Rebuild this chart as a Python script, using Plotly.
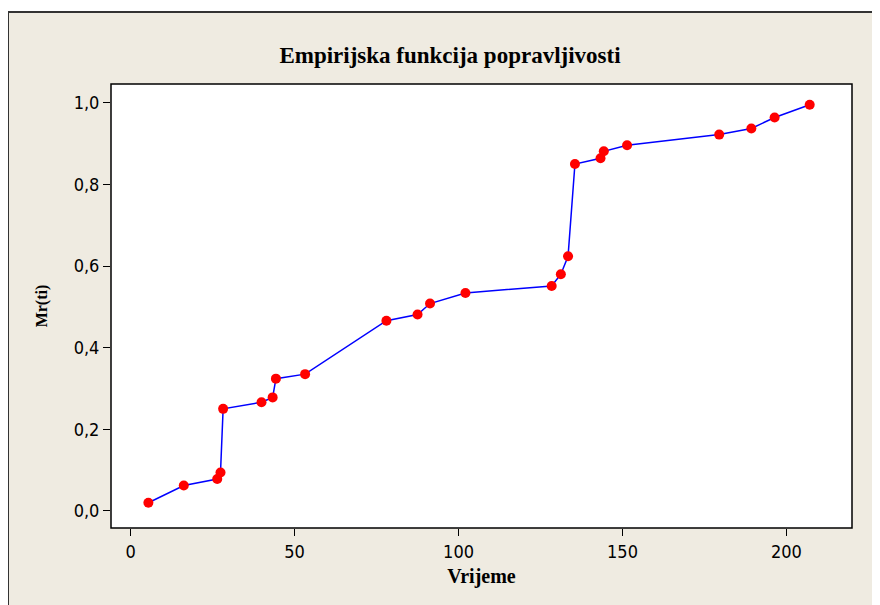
import plotly.graph_objects as go

vrijeme = [5.4, 16.2, 26.4, 27.4, 28.2, 39.9, 43.3, 44.3, 53.2, 78.0, 87.5, 91.3,
           102.1, 128.4, 131.2, 133.4, 135.5, 143.3, 144.3, 151.4, 179.5, 189.3,
           196.4, 207.1]
mr_ti = [0.020, 0.062, 0.078, 0.094, 0.250, 0.266, 0.278, 0.324, 0.335, 0.466,
         0.481, 0.508, 0.534, 0.551, 0.580, 0.624, 0.850, 0.864, 0.881, 0.896,
         0.922, 0.937, 0.964, 0.995]

x_ticks = [0, 50, 100, 150, 200]
y_ticks = [0.0, 0.2, 0.4, 0.6, 0.8, 1.0]

W, H = 880, 605
OFF = 8  # the page body has an 8px margin
L, R, T, B = 111 - OFF, 36, 84 - OFF, 85

BEIGE = "#efebe1"
SERIF = "Liberation Serif, Times New Roman, serif"
SANS = "DejaVu Sans Condensed, DejaVu Sans, sans-serif"

fig = go.Figure()
fig.add_trace(go.Scatter(x=vrijeme, y=mr_ti, mode="lines",
                         line=dict(color="#0000ff", width=1.5),
                         hoverinfo="skip", showlegend=False))
fig.add_trace(go.Scatter(x=vrijeme, y=mr_ti, mode="markers",
                         marker=dict(color="#ff0000", size=10),
                         showlegend=False))

# screen pixel -> paper fraction
pw, ph = W - L - R, H - T - B
def px(x):
    return (x - OFF - L) / pw
def py(y):
    return (H - B - (y - OFF)) / ph

fig.add_shape(type="rect", xref="paper", yref="paper",
              x0=px(8), x1=px(920), y0=py(640), y1=py(12),
              fillcolor=BEIGE, line=dict(color="#333333", width=2), layer="below")
fig.add_shape(type="rect", xref="paper", yref="paper",
              x0=0, x1=1, y0=0, y1=1,
              fillcolor="white", line=dict(color="black", width=1.5), layer="below")

axis_common = dict(showgrid=False, zeroline=False, showline=False,
                   ticks="outside", ticklen=7, tickwidth=1.2, tickcolor="black",
                   tickfont=dict(family=SANS, size=18, color="black"))

fig.update_xaxes(range=[-6, 220], tickvals=x_ticks,
                 title=dict(text="<b>Vrijeme</b>", standoff=8,
                            font=dict(family=SERIF, size=20, color="black")),
                 **axis_common)
fig.update_yaxes(range=[-0.042, 1.046], tickvals=y_ticks, tickformat=".1f",
                 title=dict(text="<b>Mr(ti)</b>", standoff=22,
                            font=dict(family=SERIF, size=16, color="black")),
                 **axis_common)

fig.update_layout(
    width=W, height=H,
    margin=dict(l=L, r=R, t=T, b=B),
    paper_bgcolor="white",
    plot_bgcolor="rgba(0,0,0,0)",
    separators=", ",
    title=dict(text="<b>Empirijska funkcija popravljivosti</b>",
               x=(450 - OFF) / W, xanchor="center",
               y=1 - (55 - OFF) / H, yanchor="middle",
               font=dict(family=SERIF, size=23, color="black")),
)

fig.write_html("out.html")
